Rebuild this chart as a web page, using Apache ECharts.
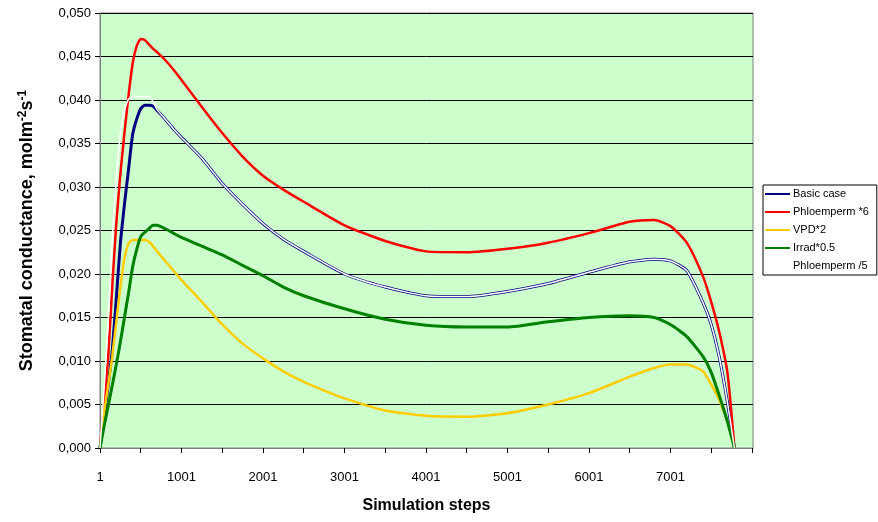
<!DOCTYPE html>
<html>
<head>
<meta charset="utf-8">
<script src="https://cdn.jsdelivr.net/npm/echarts@6/dist/echarts.min.js"></script>
<style>
  html, body { margin: 0; padding: 0; background: #fff; }
  #chart { width: 878px; height: 522px; }
</style>
</head>
<body>
<div id="chart"></div>
<script>
// simulation step (0-based; labels show step + 1)
var steps = [0, 50, 100, 150, 200, 250, 300, 350, 400, 450,
  500, 550, 600, 650, 700, 800, 900, 1000, 1250, 1500,
  1750, 2000, 2250, 2500, 3000, 3500, 4000, 4500, 5000, 5500,
  6000, 6500, 6800, 7000, 7200, 7400, 7500, 7600, 7700, 7785];

var basicCase = [0, 0.0035, 0.0072, 0.0112, 0.0172, 0.0235, 0.0280, 0.0320, 0.0360, 0.0378,
  0.0390, 0.0394, 0.0394, 0.0393, 0.0388, 0.0378, 0.0367, 0.0357, 0.0333, 0.0304,
  0.0280, 0.0258, 0.0240, 0.0226, 0.0200, 0.0185, 0.0175, 0.0174, 0.0180, 0.0189,
  0.0202, 0.0214, 0.0217, 0.0215, 0.0204, 0.0167, 0.0142, 0.0104, 0.0052, 0];

var phloemX6 = [0, 0.0052, 0.0104, 0.0185, 0.0258, 0.0315, 0.0362, 0.0405, 0.0442, 0.0462,
  0.0470, 0.0469, 0.0464, 0.0459, 0.0455, 0.0446, 0.0435, 0.0423, 0.0392, 0.0362,
  0.0335, 0.0313, 0.0297, 0.0283, 0.0256, 0.0238, 0.0226, 0.0225, 0.0229, 0.0236,
  0.0247, 0.0260, 0.0262, 0.0255, 0.0236, 0.0197, 0.0168, 0.0133, 0.0086, 0];

var vpdX2 = [0, 0.0040, 0.0072, 0.0105, 0.0145, 0.0185, 0.0218, 0.0235, 0.0239, 0.0239,
  0.0239, 0.0239, 0.0237, 0.0232, 0.0226, 0.0215, 0.0204, 0.0193, 0.0168, 0.0142,
  0.0120, 0.0103, 0.0088, 0.0076, 0.0057, 0.0043, 0.0037, 0.0036, 0.0040, 0.0050,
  0.0063, 0.0082, 0.0092, 0.0096, 0.0096, 0.0088, 0.0073, 0.0055, 0.0030, 0];

var irradX05 = [0, 0.0025, 0.0048, 0.0072, 0.0096, 0.0122, 0.0150, 0.0178, 0.0208, 0.0228,
  0.0243, 0.0248, 0.0252, 0.0256, 0.0256, 0.0252, 0.0247, 0.0242, 0.0232, 0.0222,
  0.0210, 0.0198, 0.0185, 0.0175, 0.0160, 0.0148, 0.0141, 0.0139, 0.0139, 0.0145,
  0.0150, 0.0152, 0.0150, 0.0142, 0.0128, 0.0105, 0.0087, 0.0060, 0.0030, 0];

var phloemDiv5 = [0, 0.0068, 0.0145, 0.0240, 0.0310, 0.0362, 0.0388, 0.0401, 0.0404, 0.0404,
  0.0404, 0.0404, 0.0404, 0.0398, 0.0389, 0.0378, 0.0367, 0.0357, 0.0333, 0.0304,
  0.0280, 0.0258, 0.0240, 0.0226, 0.0200, 0.0185, 0.0175, 0.0174, 0.0180, 0.0189,
  0.0202, 0.0214, 0.0217, 0.0215, 0.0204, 0.0167, 0.0142, 0.0104, 0.0052, 0];

var seriesNames = ['Basic case', 'Phloemperm *6', 'VPD*2', 'Irrad*0.5', 'Phloemperm /5'];
var seriesData = [basicCase, phloemX6, vpdX2, irradX05, phloemDiv5];
var colors = ['#000080', '#FF0000', '#FFCC00', '#008000', '#FFFFFF'];
var widths = [3, 2.5, 2.5, 3, 1.5];

var font = 'Arial, "Liberation Sans", sans-serif';

function pairs(ys) {
  return steps.map(function (s, i) { return [s, ys[i]]; });
}

var chart = echarts.init(document.getElementById('chart'));
chart.setOption({
  animation: false,
  backgroundColor: '#fff',
  grid: {
    left: 100, right: 125, top: 13, bottom: 74,
    show: true, backgroundColor: '#CCFFCC', borderColor: '#808080', borderWidth: 1
  },
  legend: {
    orient: 'vertical',
    left: 763, top: 185,
    icon: 'rect',
    itemWidth: 25, itemHeight: 2, itemGap: 0,
    padding: [0, 8, 0, 2],
    backgroundColor: '#fff',
    borderColor: '#000', borderWidth: 1, borderRadius: 0,
    textStyle: { fontFamily: font, fontSize: 11, color: '#000', lineHeight: 18, padding: [0, 0, 0, -2] },
    data: seriesNames
  },
  xAxis: {
    type: 'value',
    min: 0, max: 8013, interval: 500,
    name: 'Simulation steps',
    nameLocation: 'middle', nameGap: 50,
    nameTextStyle: { fontFamily: font, fontSize: 16, fontWeight: 'bold', color: '#000' },
    axisLine: { lineStyle: { color: '#808080', width: 1 } },
    axisTick: { show: true, length: 5, lineStyle: { color: '#000' } },
    axisLabel: {
      fontFamily: font, fontSize: 13, color: '#000', margin: 23,
      showMaxLabel: false,
      formatter: function (v) { return (v % 1000 === 0 && v < 8000) ? String(v + 1) : ''; }
    },
    splitLine: { show: false }
  },
  yAxis: {
    type: 'value',
    min: 0, max: 0.05, interval: 0.005,
    name: 'Stomatal conductance, molm{sup|-2}s{sup|-1}',
    nameLocation: 'middle', nameGap: 62,
    nameTextStyle: {
      fontFamily: font, fontSize: 18, fontWeight: 'bold', color: '#000',
      rich: { sup: { fontFamily: font, fontSize: 12, fontWeight: 'bold', color: '#000', verticalAlign: 'top', padding: [0, 0, 9, 0] } }
    },
    axisLine: { show: true, lineStyle: { color: '#808080', width: 1 } },
    axisTick: { show: true, length: 5, lineStyle: { color: '#000' } },
    axisLabel: {
      fontFamily: font, fontSize: 13, color: '#000', margin: 9,
      formatter: function (v) { return v.toFixed(3).replace('.', ','); }
    },
    splitLine: { show: true, lineStyle: { color: '#000', width: 1 } }
  },
  series: seriesNames.map(function (n, i) {
    return {
      name: n,
      type: 'line',
      data: pairs(seriesData[i]),
      symbol: 'none',
      smooth: 0.2,
      color: colors[i],
      lineStyle: { color: colors[i], width: widths[i] }
    };
  })
});
</script>
</body>
</html>
